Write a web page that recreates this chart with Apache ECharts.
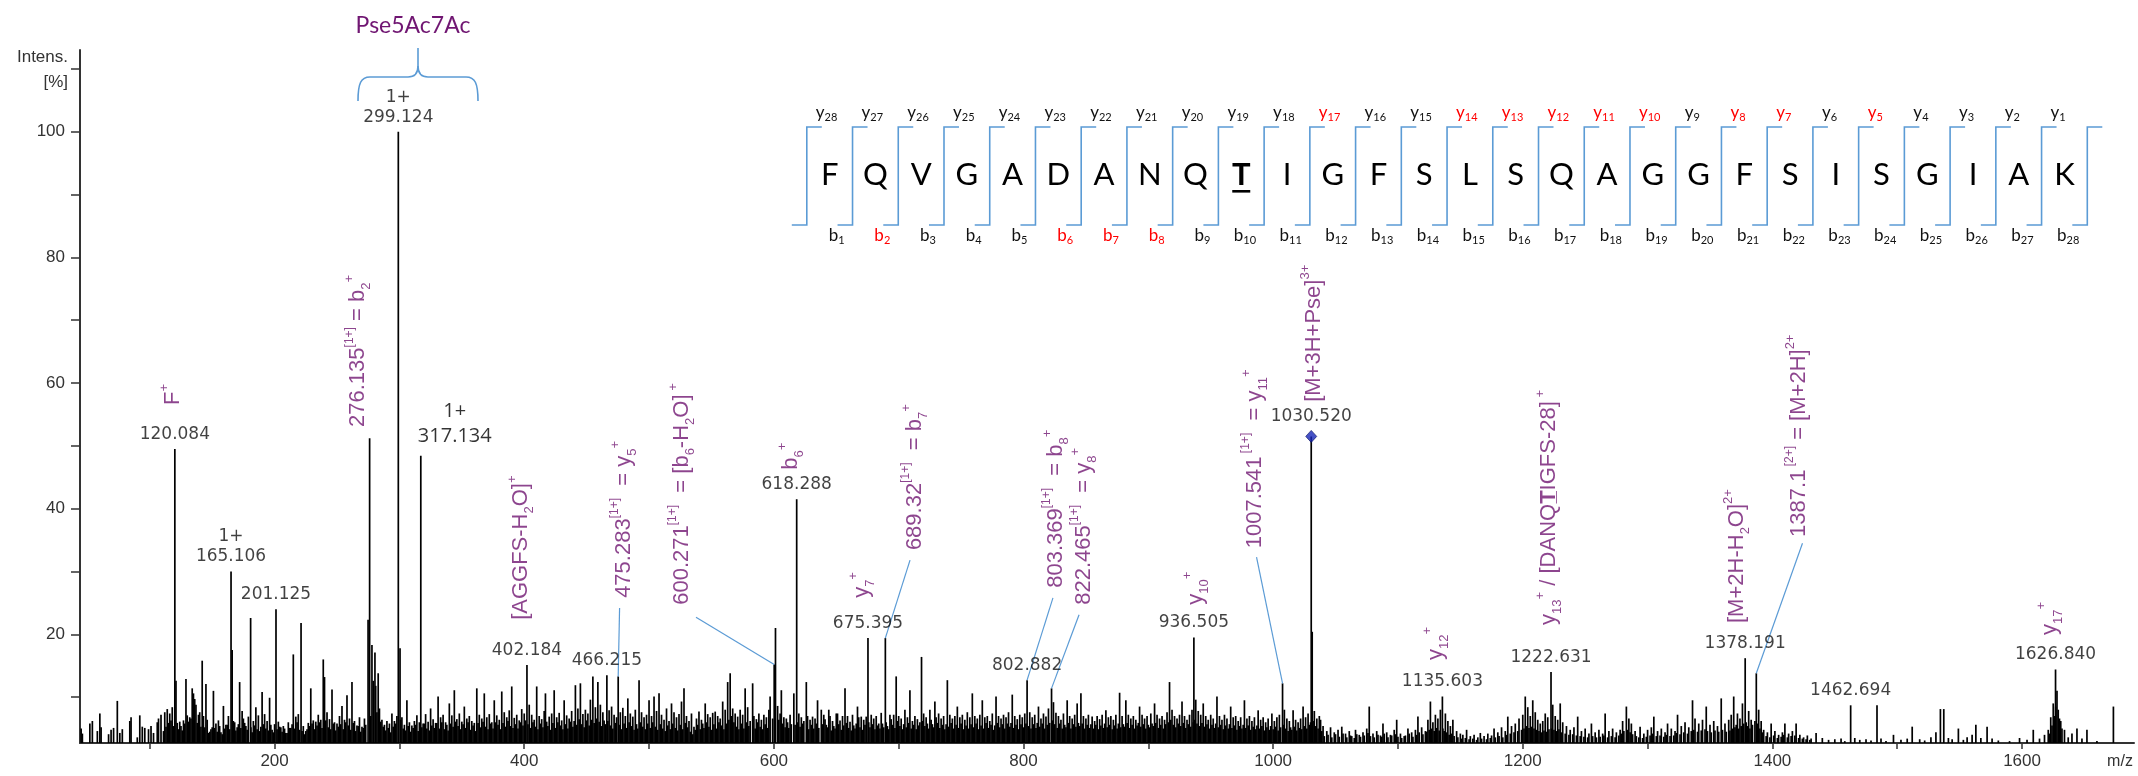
<!DOCTYPE html>
<html>
<head>
<meta charset="utf-8">
<script src="https://cdn.jsdelivr.net/npm/echarts@6/dist/echarts.min.js"></script>
<style>
  html, body { margin: 0; padding: 0; background: #ffffff; }
  #main { width: 2138px; height: 776px; }
</style>
</head>
<body>
<div id="main"></div>
<script>
// ---- axes ----
const X_MIN = 44.1, X_MAX = 1689.7;
const Y_MIN = 2.7, Y_MAX = 113;
const xTickValues = [100, 200, 300, 400, 500, 600, 700, 800, 900, 1000, 1100, 1200, 1300, 1400, 1500, 1600];
const xLabelValues = [200, 400, 600, 800, 1000, 1200, 1400, 1600];
const yTickValues = [10, 20, 30, 40, 50, 60, 70, 80, 90, 100, 110];
const yLabelValues = [20, 40, 60, 80, 100];

// ---- labelled peaks: m/z, relative intensity, charge state ----
const labeledPeaks = [
  [120.084, 49.5, ''], [165.106, 30.0, '1+'], [201.125, 24.0, ''], [299.124, 100, '1+'],
  [317.134, 48.4, '1+'], [402.184, 15.1, ''], [466.215, 13.5, ''], [618.288, 41.5, ''],
  [675.395, 19.4, ''], [802.882, 12.7, ''], [936.505, 19.5, ''], [1030.520, 51.5, ''],
  [1135.603, 10.1, ''], [1222.631, 14.0, ''], [1378.191, 16.2, ''], [1462.694, 8.7, ''],
  [1626.840, 14.4, '']
];
// precursor marked with a diamond
const precursorMz = 1030.520;

// ---- assigned fragment peaks without a numeric label ----
const assignedPeaks = [
  [276.135, 51.2], [475.283, 13.3], [600.271, 15.2], [601.3, 21.0], [689.32, 19.4],
  [822.465, 11.4], [1007.541, 12.2], [1031.3, 20.4], [1387.1, 13.8],
  [180.8, 22.6], [221.2, 21.8], [274.9, 22.3], [280.4, 17.1], [300.5, 17.8],
  [718.3, 16.4], [1483.8, 8.7], [1534.6, 8.1], [1537.3, 8.1], [1673.2, 8.5]
];

// ---- remaining centroid peaks (m/z, relative intensity) ----
const noisePeaks = [
  [45,5.0],[46,4.2],[52,5.8],[54,6.2],[58,4.6],[60,7.4],[61,5.2],[67,4.1],[69,4.8],[71,5.1],[74,9.4],[76,4.3],[78,4.9],
  [84,6.2],[85,6.8],[90,3.6],[92,7.1],[94,5.3],[96,5.1],[99,4.9],[101,5.4],[103,4.3],[106,6.0],[107,6.6],[109,7.2],
  [112,7.6],[114,8.1],[116,7.4],[118,8.4],[121,12.6],[122,5.9],[124,6.1],[125,5.4],[127,6.3],[129,12.9],
  [130,7.1],[132,6.8],[134,11.4],[135,10.6],[136,9.7],[137,8.8],[139,7.2],[140,7.6],[142,15.8],[143,7.0],[145,12.1],
  [146,6.4],[148,4.5],[150,5.2],[151,11.0],[153,5.8],[155,6.3],[157,4.4],[159,8.6],[161,5.6],[163,7.0],[166,17.5],
  [168,6.0],[170,5.2],[172,12.4],[174,7.8],[175,6.6],[177,5.4],[179,6.9],[183,6.2],[185,8.4],[187,7.1],[189,5.3],
  [190,10.8],[192,7.3],[194,6.2],[196,9.9],[198,4.8],[200,5.7],[203,6.1],[205,5.2],[207,5.4],[209,4.3],[211,6.0],
  [213,5.1],[215,16.8],[217,6.9],[219,7.3],[223,5.4],[225,4.6],[227,5.9],[229,11.4],[231,6.3],[233,6.1],[235,7.2],
  [237,6.4],[239,16.0],[240,13.2],[242,7.6],[244,6.5],[246,11.2],[248,6.0],[250,5.8],[252,7.0],[254,8.6],[256,6.4],
  [258,10.3],[260,6.6],[262,12.4],[264,6.2],[266,5.5],[268,6.8],[270,5.3],[272,6.6],[278,18.3],[279,12.6],[281,11.8],
  [283,13.8],[284,8.2],[286,6.4],[288,5.6],[290,6.2],[292,5.8],[294,7.4],[296,6.2],[298,7.0],[302,6.8],[304,5.6],
  [306,9.5],[308,6.0],[310,5.5],[312,6.2],[314,7.1],[316,6.0],[319,5.8],[321,7.3],[323,6.1],[325,8.2],[327,6.5],
  [329,5.9],[331,10.1],[333,6.8],[335,7.2],[337,6.0],[340,9.0],[342,7.1],[344,11.1],[346,6.5],[348,7.4],[350,6.1],
  [352,8.5],[354,6.6],[356,7.0],[358,6.2],[360,5.9],[362,11.4],[364,7.2],[366,6.6],[368,10.6],[370,6.8],[372,7.3],
  [374,6.0],[376,9.5],[378,7.1],[380,6.4],[382,10.9],[384,7.6],[386,6.8],[388,7.9],[390,11.7],[392,6.7],[394,7.2],
  [396,6.3],[398,8.1],[400,7.4],[404,8.8],[406,7.2],[408,6.4],[410,11.7],[412,7.0],[414,6.5],[416,7.8],[417,10.6],
  [420,6.9],[422,7.4],[424,11.1],[426,6.8],[428,7.5],[430,6.3],[432,9.5],[434,7.1],[436,6.6],[438,7.8],[441,11.9],
  [443,8.2],[445,12.2],[447,7.3],[449,8.0],[451,7.4],[453,9.6],[455,13.3],[457,8.4],[459,12.4],[461,8.8],[463,7.6],
  [468,7.9],[470,8.5],[472,7.2],[474,6.8],[477,7.6],[479,8.3],[481,7.0],[483,9.8],[485,7.4],[487,6.9],[489,8.0],
  [492,12.7],[494,7.6],[496,6.8],[498,7.2],[500,9.5],[502,7.0],[504,10.1],[506,7.8],[508,10.6],[510,7.2],[512,6.4],
  [514,8.2],[516,6.2],[518,9.0],[520,7.6],[522,6.8],[524,7.3],[526,9.3],[528,11.4],[530,7.0],[532,6.2],[534,7.4],
  [536,5.3],[538,6.6],[540,7.7],[542,6.4],[545,9.0],[547,7.3],[549,6.8],[551,7.5],[553,7.7],[555,7.0],[557,6.6],
  [559,9.3],[561,8.0],[563,12.4],[565,13.8],[567,8.2],[569,7.4],[571,6.9],[573,8.0],[575,7.2],[577,11.4],[579,8.4],
  [583,12.2],[584,7.0],[586,6.5],[588,7.4],[590,6.4],[592,7.2],[594,6.8],[596,8.0],[597,10.1],[603,8.6],[605,7.4],
  [606,11.1],[608,6.8],[610,6.6],[613,7.2],[616,10.6],[620,7.4],[622,6.8],[626,12.4],[627,7.0],[629,6.4],[631,6.9],
  [633,6.6],[635,9.5],[638,8.0],[640,7.2],[641,6.5],[644,8.0],[645,7.0],[647,6.2],[650,7.4],[651,7.4],[653,6.3],
  [655,7.0],[657,11.4],[659,7.0],[661,6.1],[663,7.2],[667,8.5],[668,6.8],[670,6.9],[672,6.4],[674,6.9],[678,7.2],
  [680,6.6],[682,7.0],[684,5.8],[686,7.5],[693,7.2],[694,6.5],[696,7.2],[698,13.3],[700,7.0],[702,6.6],[705,8.0],
  [707,6.8],[709,11.1],[711,6.2],[713,7.0],[715,6.5],[720,7.4],[722,6.8],[725,8.0],[726,6.4],[729,9.3],[730,6.8],
  [732,7.4],[734,6.6],[736,7.0],[739,12.7],[741,7.2],[743,6.6],[745,7.0],[747,8.5],[749,6.8],[751,7.2],[753,6.4],
  [755,7.6],[757,6.8],[759,10.6],[761,7.0],[763,6.6],[765,7.2],[767,9.5],[769,6.8],[771,7.0],[773,6.2],[775,7.4],
  [778,10.1],[780,7.0],[782,6.6],[784,7.2],[786,6.8],[788,7.6],[791,10.4],[793,7.0],[795,6.5],[797,7.2],[799,6.8],
  [801,7.4],[805,7.6],[807,6.8],[809,7.2],[812,8.5],[814,6.6],[816,7.4],[818,6.9],[820,8.2],[824,9.2],[826,7.5],
  [828,7.0],[830,6.4],[832,7.4],[835,9.5],[837,7.0],[839,6.6],[841,7.2],[843,9.0],[846,10.6],[848,7.0],[850,6.6],
  [852,7.2],[855,6.9],[857,6.2],[859,7.0],[861,6.5],[863,7.2],[866,7.9],[868,6.8],[870,7.0],[872,6.4],[874,7.2],
  [877,10.7],[879,7.0],[882,9.5],[884,7.2],[886,6.6],[888,7.0],[890,6.4],[893,8.5],[895,7.2],[897,6.6],[899,7.0],
  [902,7.4],[905,9.0],[907,7.2],[909,6.6],[911,7.0],[913,6.4],[915,7.6],[917,12.4],[919,8.0],[921,7.0],[923,6.6],
  [925,7.2],[927,9.3],[929,7.0],[931,6.4],[933,7.2],[935,8.0],[938,9.6],[940,7.8],[942,7.2],[944,9.0],[946,7.0],
  [948,6.4],[950,7.2],[952,6.6],[955,10.1],[957,7.0],[959,6.4],[961,7.2],[963,6.6],[966,8.5],[968,6.8],[970,7.0],
  [972,6.2],[974,6.8],[977,9.5],[979,6.6],[981,7.0],[983,6.2],[985,6.8],[988,7.9],[990,6.4],[992,6.8],[994,6.0],
  [996,6.6],[999,7.4],[1001,6.2],[1003,6.8],[1005,7.2],[1009,8.0],[1011,6.6],[1013,6.2],[1016,7.9],[1018,6.4],
  [1020,6.0],[1022,6.6],[1024,8.5],[1026,6.8],[1028,7.4],[1033,7.8],[1035,6.6],[1037,7.0],[1038,6.4],[1040,5.4],
  [1043,4.6],[1046,5.2],[1049,4.4],[1052,4.8],[1055,5.3],[1058,4.2],[1061,4.6],[1063,3.8],[1066,4.8],[1069,4.0],
  [1072,4.4],[1075,5.0],[1077,8.5],[1080,4.2],[1083,4.6],[1086,3.9],[1088,5.8],[1091,4.4],[1094,4.0],[1097,4.8],
  [1099,6.4],[1102,4.2],[1105,3.8],[1108,5.0],[1111,4.4],[1114,4.8],[1116,6.9],[1119,5.2],[1122,4.6],[1124,6.4],
  [1126,9.3],[1128,6.0],[1130,7.2],[1132,6.6],[1134,8.0],[1138,7.4],[1140,6.2],[1142,5.4],[1144,6.4],[1147,4.6],
  [1150,4.2],[1152,4.0],[1155,4.8],[1158,3.8],[1161,4.0],[1164,3.6],[1166,4.3],[1169,3.8],[1172,4.2],[1175,3.9],
  [1177,5.0],[1180,4.4],[1183,5.2],[1186,4.6],[1188,6.9],[1191,5.4],[1194,5.8],[1197,6.6],[1200,7.2],[1202,10.1],
  [1204,8.4],[1206,7.0],[1208,9.5],[1210,7.6],[1212,6.4],[1214,5.8],[1216,6.2],[1218,7.4],[1220,6.8],[1224,8.8],
  [1226,7.0],[1228,6.4],[1230,9.0],[1232,6.0],[1235,5.4],[1238,4.8],[1241,5.2],[1244,6.9],[1247,4.6],[1250,5.0],
  [1253,4.2],[1255,5.8],[1258,4.4],[1261,4.8],[1264,4.2],[1266,7.4],[1269,4.6],[1272,5.0],[1275,4.4],[1278,4.8],
  [1280,6.2],[1283,8.5],[1285,6.6],[1287,5.8],[1290,4.6],[1294,5.3],[1297,4.2],[1300,4.8],[1303,5.2],[1305,6.9],
  [1308,4.6],[1311,5.0],[1314,4.4],[1316,5.8],[1319,5.0],[1322,4.6],[1324,7.2],[1327,5.4],[1330,6.0],[1333,5.2],
  [1336,9.5],[1338,6.6],[1341,5.8],[1344,6.4],[1347,8.5],[1350,5.6],[1353,6.2],[1356,5.4],[1359,9.8],[1362,5.8],
  [1365,6.4],[1367,7.2],[1369,10.1],[1372,7.4],[1374,6.6],[1376,9.0],[1381,7.8],[1383,6.4],[1389,8.0],[1391,6.2],
  [1393,4.8],[1396,4.4],[1399,5.8],[1402,4.6],[1405,4.0],[1408,4.4],[1410,5.8],[1413,4.2],[1416,4.6],[1419,5.8],
  [1422,4.0],[1425,3.6],[1428,3.9],[1431,3.4],[1435,4.3],[1440,3.5],[1445,3.2],[1450,3.3],[1455,3.4],[1458,3.0],
  [1466,3.5],[1470,3.2],[1475,3.3],[1479,3.1],[1487,3.4],[1491,3.0],[1497,4.0],[1503,3.2],[1508,3.4],[1512,5.3],
  [1518,3.3],[1522,3.1],[1527,3.6],[1531,4.4],[1541,3.5],[1544,3.3],[1549,5.0],[1553,3.2],[1556,3.6],[1560,4.0],
  [1563,5.6],[1567,3.5],[1572,5.3],[1576,3.4],[1581,3.1],[1590,3.0],[1598,3.5],[1604,3.2],[1609,4.8],[1614,3.4],
  [1618,4.0],[1621,4.8],[1623,6.8],[1625,9.0],[1628,11.0],[1629,8.0],[1631,6.2],[1634,4.8],[1637,3.6],[1640,4.2],
  [1644,5.0],[1648,3.4],[1652,4.8],[1660,3.0]
];

// ---- dense low-level peaks forming the chemical background ----
const backgroundPeaks = [
  [111,4.6],[113,5.3],[115,5.9],[117,6.3],[119,5.4],[123,4.9],[126,4.7],[128,5.8],[131,6.1],[133,6.6],[138,5.9],
  [141,5.3],[144,5.2],[147,4.3],[149,4.9],[152,5.1],[154,4.5],[156,5.4],[158,4.1],[160,5.0],[162,5.6],[164,4.9],
  [167,6.2],[169,4.7],[171,5.7],[173,5.1],[176,5.9],[178,4.8],[181,5.2],[182,4.4],[184,5.5],[186,4.9],[188,4.6],
  [191,5.7],[193,5.0],[195,4.7],[197,5.6],[199,4.4],[202,4.9],[204,5.3],[206,4.5],[208,5.0],[210,4.3],[212,5.1],
  [214,5.7],[216,5.0],[218,6.0],[220,4.8],[222,4.6],[224,4.1],[226,4.9],[228,5.4],[230,5.8],[232,4.9],[234,5.5],
  [236,6.0],[238,5.1],[241,6.3],[243,5.2],[245,4.9],[247,5.8],[249,4.7],[251,5.3],[253,5.7],[255,4.9],[257,6.0],
  [259,5.5],[261,4.8],[263,5.9],[265,4.6],[267,5.4],[269,4.5],[271,5.1],[273,5.6],[277,7.0],[282,7.6],[285,6.1],
  [287,5.3],[289,4.7],[291,5.1],[293,4.4],[295,5.3],[297,5.8],[301,6.4],[303,5.0],[305,4.7],[307,5.4],[309,4.5],
  [311,5.1],[313,5.6],[315,4.6],[318,5.2],[320,5.8],[322,5.0],[324,4.7],[326,5.5],[328,5.1],[330,5.9],[332,5.0],
  [334,6.0],[336,4.9],[338,5.6],[339,4.7],[341,5.8],[343,5.3],[345,6.1],[347,5.4],[349,4.9],[351,5.7],[353,5.1],
  [355,6.0],[357,4.8],[359,5.5],[361,4.6],[363,5.9],[365,5.2],[367,6.1],[369,5.3],[371,4.9],[373,5.8],[375,5.0],
  [377,6.0],[379,5.6],[381,4.9],[383,5.9],[385,5.3],[387,6.2],[389,5.4],[391,5.1],[393,5.7],[395,5.0],[397,6.0],
  [399,5.5],[401,6.3],[403,5.7],[405,5.1],[407,6.0],[409,5.3],[411,4.9],[413,5.8],[415,5.2],[418,6.1],[419,5.4],
  [421,4.8],[423,5.9],[425,5.1],[427,6.0],[429,5.5],[431,4.9],[433,5.7],[435,5.0],[437,6.1],[439,5.3],[440,6.2],
  [442,5.6],[444,6.5],[446,5.7],[448,5.2],[450,6.3],[452,5.5],[454,6.4],[456,5.9],[458,6.6],[460,6.1],[462,5.4],
  [464,6.3],[465,5.7],[467,6.2],[469,5.5],[471,5.0],[473,5.9],[476,5.6],[478,4.9],[480,5.8],[482,5.1],[484,6.0],
  [486,5.4],[488,4.8],[490,5.7],[491,5.0],[493,6.0],[495,5.3],[497,4.9],[499,5.8],[501,5.1],[503,6.0],[505,5.3],
  [507,4.8],[509,5.7],[511,5.0],[513,4.6],[515,5.5],[517,4.9],[519,5.8],[521,5.1],[523,4.7],[525,5.6],[527,4.9],
  [529,5.9],[531,5.2],[533,4.5],[535,4.1],[537,4.8],[539,5.6],[541,4.9],[543,5.8],[544,5.1],[546,6.0],[548,5.3],
  [550,4.8],[552,5.7],[554,5.0],[556,6.0],[558,5.5],[560,4.9],[562,5.8],[564,6.4],[566,7.0],[568,6.0],[570,5.3],
  [572,4.9],[574,5.8],[576,5.0],[578,6.0],[580,5.4],[581,6.2],[585,5.0],[587,6.0],[589,5.3],[591,4.9],[593,5.7],
  [595,5.1],[599,6.6],[604,6.4],[607,5.8],[609,5.2],[611,6.0],[612,5.1],[614,5.7],[617,5.6],[619,6.0],[621,5.3],
  [623,5.8],[624,6.2],[628,4.9],[630,5.6],[632,5.0],[634,5.8],[636,5.1],[639,5.7],[642,5.6],[643,5.2],[646,4.7],
  [648,5.4],[649,5.0],[652,5.7],[654,4.8],[656,5.5],[658,5.9],[660,5.1],[662,4.7],[664,5.5],[665,5.0],[666,5.8],
  [669,5.2],[671,4.8],[673,5.6],[676,6.0],[677,5.2],[679,5.7],[681,4.9],[683,5.5],[685,5.0],[687,5.8],[688,5.2],
  [690,6.0],[691,5.4],[692,4.9],[695,5.6],[697,5.1],[699,6.2],[701,5.4],[703,4.9],[704,5.7],[706,5.2],[708,5.9],
  [710,5.0],[712,5.6],[714,4.9],[716,5.5],[717,6.0],[719,6.2],[721,5.4],[723,5.8],[724,5.0],[727,5.7],[728,5.2],
  [731,5.9],[733,5.1],[735,5.6],[737,4.9],[738,5.7],[740,5.3],[742,5.9],[744,5.0],[746,5.6],[748,5.1],[750,5.8],
  [752,4.9],[754,5.5],[756,5.0],[758,5.7],[760,5.2],[762,5.8],[764,4.9],[766,5.5],[768,5.0],[770,5.9],[772,5.1],
  [774,5.6],[776,4.8],[777,5.5],[779,5.9],[781,5.2],[783,5.7],[785,5.0],[787,5.8],[789,5.3],[790,5.9],[792,5.1],
  [794,5.6],[796,4.9],[798,5.7],[800,5.2],[802,5.8],[804,5.4],[806,5.0],[808,5.7],[810,5.1],[811,5.9],[813,5.3],
  [815,5.8],[817,5.0],[819,5.6],[821,5.9],[823,6.3],[825,5.7],[827,5.1],[829,5.8],[831,5.0],[833,5.6],[834,5.2],
  [836,5.9],[838,5.0],[840,5.7],[842,5.3],[844,5.9],[845,5.4],[847,5.8],[849,5.0],[851,5.6],[853,5.1],[854,5.7],
  [856,5.0],[858,5.6],[860,4.9],[862,5.5],[864,5.1],[865,5.8],[867,5.2],[869,5.6],[871,4.9],[873,5.5],[875,5.0],
  [876,5.8],[878,5.2],[880,5.7],[881,5.3],[883,5.9],[885,5.1],[887,5.6],[889,5.0],[891,5.5],[892,5.9],[894,5.3],
  [896,5.7],[898,5.0],[900,5.6],[901,5.2],[903,5.8],[904,5.4],[906,5.9],[908,5.1],[910,5.6],[912,5.0],[914,5.7],
  [916,6.0],[918,6.4],[920,5.6],[922,5.2],[924,5.8],[926,5.4],[928,5.9],[930,5.1],[932,5.7],[934,5.3],[936,6.0],
  [937,6.4],[939,5.8],[941,5.4],[943,5.9],[945,5.3],[947,5.7],[949,5.0],[951,5.6],[953,5.1],[954,5.8],[956,5.2],
  [958,5.6],[960,4.9],[962,5.5],[964,5.0],[965,5.7],[967,5.1],[969,5.5],[971,4.8],[973,5.4],[975,5.0],[976,5.6],
  [978,5.1],[980,5.5],[982,4.8],[984,5.3],[986,4.9],[987,5.5],[989,5.0],[991,5.4],[993,4.7],[995,5.2],[997,4.8],
  [998,5.4],[1000,4.9],[1002,5.3],[1004,4.7],[1006,5.2],[1008,5.6],[1010,5.0],[1012,4.6],[1014,5.2],[1015,4.8],
  [1017,5.3],[1019,4.7],[1021,5.1],[1023,4.9],[1025,5.4],[1027,5.0],[1029,5.6],[1030,6.0],[1032,6.2],[1034,5.4],
  [1036,5.0],[1039,4.6],[1041,3.8],[1044,4.0],[1047,3.6],[1050,4.1],[1053,3.7],[1056,4.2],[1059,3.6],[1062,3.9],
  [1065,3.5],[1067,4.1],[1070,3.7],[1073,3.9],[1076,4.3],[1078,3.8],[1081,3.6],[1084,4.0],[1087,3.7],[1089,4.2],
  [1092,3.6],[1095,3.9],[1098,4.1],[1100,3.7],[1103,3.5],[1106,3.9],[1109,4.2],[1112,3.7],[1115,4.0],[1117,4.4],
  [1120,4.1],[1123,4.5],[1125,4.8],[1127,5.0],[1129,4.6],[1131,5.1],[1133,4.7],[1136,5.0],[1137,4.6],[1139,4.4],
  [1141,4.0],[1143,4.2],[1145,3.8],[1148,3.6],[1151,3.4],[1154,3.5],[1157,3.3],[1160,3.4],[1163,3.2],[1167,3.4],
  [1171,3.3],[1174,3.5],[1178,3.6],[1181,3.8],[1184,3.6],[1187,4.0],[1190,4.2],[1193,4.4],[1196,4.6],[1199,4.8],
  [1201,5.0],[1203,5.4],[1205,5.1],[1207,5.3],[1209,5.0],[1211,4.8],[1213,4.6],[1215,4.4],[1217,4.7],[1219,4.5],
  [1221,4.9],[1223,5.0],[1225,4.8],[1227,4.6],[1229,4.9],[1231,4.4],[1234,4.2],[1237,4.0],[1240,4.1],[1243,3.9],
  [1246,3.8],[1249,3.7],[1252,3.6],[1256,3.8],[1259,3.6],[1262,3.7],[1265,3.9],[1268,3.6],[1271,3.8],[1274,3.6],
  [1277,3.9],[1279,4.2],[1281,4.6],[1284,4.8],[1286,4.4],[1288,4.1],[1291,3.8],[1293,3.6],[1296,3.5],[1299,3.7],
  [1302,3.9],[1304,4.2],[1307,3.8],[1310,3.9],[1313,3.7],[1315,4.0],[1318,3.8],[1321,3.9],[1323,4.3],[1326,4.1],
  [1329,4.4],[1332,4.2],[1335,4.6],[1337,4.8],[1340,4.5],[1343,4.7],[1346,4.9],[1348,4.6],[1351,4.4],[1354,4.7],
  [1357,4.5],[1360,4.8],[1363,4.5],[1366,4.7],[1368,5.0],[1370,5.2],[1371,5.6],[1373,5.0],[1375,5.4],[1377,5.8],
  [1379,6.0],[1380,5.4],[1382,5.0],[1384,5.6],[1386,6.2],[1388,5.8],[1390,5.0],[1392,4.4],[1395,3.8],[1398,3.6],
  [1401,3.9],[1404,3.5],[1407,3.7],[1409,4.0],[1412,3.6],[1415,3.8],[1418,3.9],[1421,3.5],[1424,3.4],[1427,3.3],
  [1430,3.2],[1622,4.2],[1624,5.5],[1626,7.0],[1627,8.5],[1630,6.6],[1632,5.0]
];

// ---- ion assignments (rich text), anchored at the foot of the rotated text ----
const ionLabels = [
  { text: '{n|F}{sp|+}', at: [118.9, 56.5] },
  { text: '{n|276.135}{s1|[1+]}{n| = b}{sb|2}{sp|+}', at: [267.1, 53.0] },
  { text: '{n|[AGGFS-H}{sb|2}{n|O]}{sp|+}', at: [397.4, 22.3] },
  { text: '{n|475.283}{s1|[1+]}{n|  = y}{sb|5}{sp|+}', at: [480.0, 25.8], from: [476.4, 24.2], peak: 475.283 },
  { text: '{n|600.271}{s1|[1+]}{n|  = [b}{sb|6}{n|-H}{sb|2}{n|O]}{sp| +}', at: [526.2, 24.7], from: [537.6, 22.7], peak: 600.271 },
  { text: '{n|b}{sb|6}{sp|+}', at: [613.7, 46.2] },
  { text: '{n|y}{sb|7}{sp|+}', at: [670.3, 25.8] },
  { text: '{n|689.32}{s1|[1+]}{n|  = b}{sb|7}{sp|+}', at: [713.0, 33.4], from: [709.1, 31.8], peak: 689.32 },
  { text: '{n|803.369}{s1|[1+]}{n|  = b}{sb|8}{sp|+}', at: [826.0, 27.4], from: [823.6, 25.8], peak: 802.882 },
  { text: '{n|822.465}{s1|[1+]}{n|  = y}{sb|8}{sp|+}', at: [848.5, 24.7], from: [844.5, 23.1], peak: 822.465 },
  { text: '{n|y}{sb|10}{sp|+}', at: [938.2, 24.7] },
  { text: '{n|1007.541}{s1| [1+]}{n|  = y}{sb|11}{sp|+}', at: [985.5, 33.7], from: [986.7, 32.3], peak: 1007.541 },
  { text: '{n|[M+3H+Pse]}{sp|3+}', at: [1032.6, 57.0] },
  { text: '{n|y}{sb|12}{sp|+}', at: [1130.5, 15.9] },
  { text: '{n|y}{sb|13}{sp|+}{n| / [DANQ}{u|T\u0332}{n|IGFS-28]}{sp| +}', at: [1220.6, 21.5] },
  { text: '{n|[M+2H-H}{sb|2}{n|O]}{sp|2+}', at: [1371.6, 21.8] },
  { text: '{n|1387.1}{s1| [2+]}{n| = [M+2H]}{sp|2+}', at: [1421.3, 35.5], from: [1424.1, 34.5], peak: 1387.1 },
  { text: '{n|y}{sb|17}{sp|+}', at: [1622.4, 19.9] }
];

// ---- peptide fragment map ----
const peptide = 'FQVGADANQTIGFSLSQAGGFSISGIAK'.split('');
const glycoSite = 10;                       // 1-based position of the modified T
const observedB = [2, 6, 7, 8];
const observedY = [17, 14, 13, 12, 11, 10, 8, 7, 5];
const glycanName = 'Pse5Ac7Ac';

// ---- styling ----
const PURPLE = '#701672';
const BLUE = '#5b9bd5';
const INK = '#111111';

const stickPeaks = backgroundPeaks.concat(noisePeaks).concat(assignedPeaks)
  .concat(labeledPeaks.map(p => [p[0], p[1]]));
const intensityAt = mz => {
  const hit = stickPeaks.find(p => Math.abs(p[0] - mz) < 1e-6);
  return hit ? hit[1] : 0;
};

const chart = echarts.init(document.getElementById('main'), null, { renderer: 'canvas' });

const richPurple = {
  n: { fontSize: 22, fontFamily: 'Liberation Sans', color: PURPLE, lineHeight: 30 },
  u: { fontSize: 22, fontFamily: 'Liberation Sans', fontWeight: 'bold', color: PURPLE, lineHeight: 30 },
  sp: { fontSize: 13, fontFamily: 'Liberation Sans', color: PURPLE, lineHeight: 16, verticalAlign: 'top' },
  sb: { fontSize: 13, fontFamily: 'Liberation Sans', color: PURPLE, lineHeight: 15, verticalAlign: 'bottom' },
  s1: { fontSize: 12, fontFamily: 'Liberation Sans', color: PURPLE, lineHeight: 22, verticalAlign: 'top' }
};

// peptide map drawn as graphic elements
const seqX0 = 806.8, seqStep = (2087.3 - 806.8) / 28;
const seqTop = 127, seqBottom = 225, seqMid = 175, tickLen = 15;
const seqGraphics = [];
for (let i = 0; i <= peptide.length; i++) {
  const x = seqX0 + i * seqStep;
  seqGraphics.push({
    type: 'polyline', silent: true,
    shape: { points: [[x - tickLen, seqBottom], [x, seqBottom], [x, seqTop], [x + tickLen, seqTop]] },
    style: { stroke: BLUE, lineWidth: 1.6, fill: null }
  });
  if (i < peptide.length) {
    const n = peptide.length - i;
    const c = observedY.includes(n) ? '#ff0000' : INK;
    seqGraphics.push({
      type: 'text', silent: true, x: x + 9, y: 113,
      style: {
        text: '{m|y}{s|' + n + '}', align: 'left', verticalAlign: 'middle',
        textAlign: 'left', textVerticalAlign: 'middle',
        rich: {
          m: { fill: c, fontSize: 17, fontFamily: 'Lato', lineHeight: 20, verticalAlign: 'middle' },
          s: { fill: c, fontSize: 11, fontFamily: 'Lato', lineHeight: 12, verticalAlign: 'bottom' }
        }
      }
    });
  }
  if (i >= 1) {
    const c = observedB.includes(i) ? '#ff0000' : INK;
    seqGraphics.push({
      type: 'text', silent: true, x: x - 8, y: 236,
      style: {
        text: '{m|b}{s|' + i + '}', align: 'right', verticalAlign: 'middle',
        textAlign: 'right', textVerticalAlign: 'middle',
        rich: {
          m: { fill: c, fontSize: 17, fontFamily: 'Lato', lineHeight: 20, verticalAlign: 'middle' },
          s: { fill: c, fontSize: 11, fontFamily: 'Lato', lineHeight: 12, verticalAlign: 'bottom' }
        }
      }
    });
  }
}
peptide.forEach((aa, i) => {
  const x = seqX0 + (i + 0.5) * seqStep;
  const bold = (i + 1) === glycoSite;
  seqGraphics.push({
    type: 'text', silent: true, x: x, y: seqMid,
    style: {
      text: aa, fill: '#000', align: 'center', verticalAlign: 'middle',
      textAlign: 'center', textVerticalAlign: 'middle',
      font: (bold ? 'bold ' : '') + '31px Lato'
    }
  });
  if (bold) {
    seqGraphics.push({
      type: 'rect', silent: true,
      shape: { x: x - 9, y: seqMid + 15, width: 18, height: 2.6 },
      style: { fill: '#000' }
    });
  }
});

// brace over the glycan oxonium ions
const braceGraphics = [
  { type: 'line', shape: { x1: 418, y1: 48, x2: 418, y2: 66 } },
  { type: 'bezierCurve', shape: { x1: 418, y1: 66, cpx1: 418, cpy1: 74, cpx2: 414, cpy2: 77, x2: 408, y2: 77 } },
  { type: 'line', shape: { x1: 408, y1: 77, x2: 370, y2: 77 } },
  { type: 'bezierCurve', shape: { x1: 370, y1: 77, cpx1: 361, cpy1: 77, cpx2: 358, cpy2: 83, x2: 358, y2: 101 } },
  { type: 'bezierCurve', shape: { x1: 418, y1: 66, cpx1: 418, cpy1: 74, cpx2: 422, cpy2: 77, x2: 428, y2: 77 } },
  { type: 'line', shape: { x1: 428, y1: 77, x2: 466, y2: 77 } },
  { type: 'bezierCurve', shape: { x1: 466, y1: 77, cpx1: 475, cpy1: 77, cpx2: 478, cpy2: 83, x2: 478, y2: 101 } }
].map(g => Object.assign(g, { silent: true, style: { stroke: BLUE, lineWidth: 1.6, fill: null } }));

const option = {
  backgroundColor: '#ffffff',
  animation: false,
  grid: { left: 80, right: 4, top: 50, bottom: 33 },
  xAxis: {
    type: 'value', min: X_MIN, max: X_MAX,
    axisLine: { show: true, onZero: false, lineStyle: { color: '#333', width: 2 } },
    axisTick: { show: true, length: 6, customValues: xTickValues, lineStyle: { color: '#333', width: 1.5 } },
    axisLabel: {
      customValues: xLabelValues, formatter: v => String(v),
      color: '#333', fontSize: 17, fontFamily: 'Liberation Sans', margin: 10
    },
    splitLine: { show: false }
  },
  yAxis: {
    type: 'value', min: Y_MIN, max: Y_MAX,
    axisLine: { show: true, onZero: false, lineStyle: { color: '#333', width: 2 } },
    axisTick: { show: true, length: 9, customValues: yTickValues, lineStyle: { color: '#333', width: 1.5 } },
    axisLabel: {
      customValues: yLabelValues, formatter: v => String(v),
      color: '#333', fontSize: 17, fontFamily: 'Liberation Sans', margin: 15
    },
    splitLine: { show: false }
  },
  graphic: [
    { type: 'text', silent: true, x: 68, y: 57, style: { text: 'Intens.', fill: '#333', font: '17px Liberation Sans', align: 'right', verticalAlign: 'middle', textAlign: 'right', textVerticalAlign: 'middle' } },
    { type: 'text', silent: true, x: 68, y: 82, style: { text: '[%]', fill: '#333', font: '17px Liberation Sans', align: 'right', verticalAlign: 'middle', textAlign: 'right', textVerticalAlign: 'middle' } },
    { type: 'text', silent: true, x: 2120, y: 762, style: { text: 'm/z', fill: '#333', font: '16px Liberation Sans', align: 'center', verticalAlign: 'middle', textAlign: 'center', textVerticalAlign: 'middle' } },
    { type: 'text', silent: true, x: 413, y: 26, style: { text: glycanName, fill: PURPLE, font: '23px Lato', align: 'center', verticalAlign: 'middle', textAlign: 'center', textVerticalAlign: 'middle' } }
  ].concat(braceGraphics).concat(seqGraphics),
  series: [
    {
      name: 'spectrum', type: 'custom', clip: true, silent: true,
      encode: { x: 0, y: 1 },
      data: stickPeaks,
      renderItem: (params, api) => {
        const top = api.coord([api.value(0), api.value(1)]);
        const base = api.coord([api.value(0), Y_MIN]);
        return {
          type: 'line',
          shape: { x1: top[0], y1: top[1], x2: base[0], y2: base[1] },
          style: { stroke: '#000', lineWidth: 1.7 }
        };
      },
      z: 2
    },
    {
      name: 'leaders', type: 'lines', coordinateSystem: 'cartesian2d', silent: true,
      lineStyle: { color: BLUE, width: 1.2, opacity: 1 },
      data: ionLabels.filter(a => a.from).map(a => ({ coords: [a.from, [a.peak, intensityAt(a.peak)]] })),
      z: 3
    },
    {
      name: 'peak labels', type: 'scatter', silent: true,
      symbolSize: 1, itemStyle: { color: 'rgba(0,0,0,0)' },
      data: labeledPeaks.map(p => {
        const item = { value: [p[0], p[1]], name: (p[2] ? p[2] + '\n' : '') + p[0].toFixed(3) };
        if (p[0] === 317.134) {
          item.label = { fontFamily: 'Open Sans', fontSize: 20, lineHeight: 25, color: '#000', distance: 7, offset: [34, 0] };
        }
        if (p[0] === precursorMz) {
          item.label = { distance: 9 };
        }
        return item;
      }),
      label: {
        show: true, position: 'top', distance: 4, formatter: p => p.name,
        color: INK, fontFamily: 'DejaVu Sans', fontSize: 17, lineHeight: 20, align: 'center'
      },
      z: 5
    },
    {
      name: 'precursor', type: 'scatter', silent: true,
      symbol: 'diamond', symbolSize: [11, 12],
      itemStyle: { color: '#1626b8', borderColor: '#0a1260', borderWidth: 0.8 },
      data: labeledPeaks.filter(p => p[0] === precursorMz).map(p => [p[0], p[1]]),
      z: 6
    },
    {
      name: 'ion assignments', type: 'scatter', silent: true,
      symbolSize: 1, itemStyle: { color: 'rgba(0,0,0,0)' },
      data: ionLabels.map(a => ({ value: a.at, name: a.text })),
      label: {
        show: true, position: 'inside', rotate: 90, align: 'left', verticalAlign: 'middle',
        formatter: p => p.name, rich: richPurple
      },
      z: 5
    }
  ]
};

chart.setOption(option);
</script>
</body>
</html>
